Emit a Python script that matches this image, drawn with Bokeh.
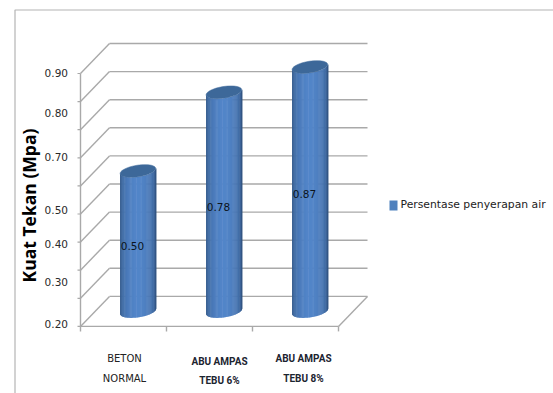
import math

from bokeh.core.properties import value
from bokeh.embed import file_html
from bokeh.models import Range1d
from bokeh.plotting import figure
from bokeh.resources import INLINE

# Chart content
categories = [["BETON", "NORMAL"], ["ABU AMPAS", "TEBU 6%"], ["ABU AMPAS", "TEBU 8%"]]
strength = [0.50, 0.78, 0.87]
value_labels = ["0.50", "0.78", "0.87"]
tick_labels = ["0.90", "0.80", "0.70", "0.50", "0.40", "0.30", "0.20"]
series_name = "Persentase penyerapan air"
axis_title = "Kuat Tekan (Mpa)"

# Page layout, in pixels
W, H = 553, 393
BAR_X0, BAR_DX = 137.4, 86.0   # centre of the first cylinder, spacing between cylinders
BASE_Y, PX_PER_UNIT = 311.0, 281.0   # pixel height of value 0 and scale of the value axis
GRID = "#a9a9a9"


def ux(px):
    return (px - BAR_X0) / BAR_DX


def uy(py):
    return (BASE_Y - py) / PX_PER_UNIT


p = figure(
    width=W, height=H, output_backend="svg", toolbar_location=None,
    x_range=Range1d(ux(0), ux(W)), y_range=Range1d(uy(H), uy(0)),
    min_border=0, outline_line_color=None,
)
p.xaxis.visible = False
p.yaxis.visible = False
p.grid.visible = False


def seg(x0, y0, x1, y1, color=GRID, width=1.4):
    p.line([ux(x0), ux(x1)], [uy(y0), uy(y1)], line_color=color, line_width=width)


# Outer frame of the chart area
p.line([ux(14.5), ux(14.5), ux(W)], [uy(H), uy(9.5), uy(9.5)], line_color="#b4b4b4", line_width=1.2)

# Perspective walls: gridlines run along the back wall and step down the side wall
FRONT_X, BACK_X, RIGHT_X = 80.0, 109.0, 367.0
TOP_FRONT, STEP = 73.0, 28.1
for k in range(10):
    yf = TOP_FRONT + k * STEP
    seg(FRONT_X, yf, BACK_X, yf - 30)
    seg(BACK_X, yf - 30, RIGHT_X, yf - 30)
    seg(FRONT_X - 3, yf, FRONT_X, yf, width=1.2)
floor_y = TOP_FRONT + 9 * STEP
seg(FRONT_X, TOP_FRONT, FRONT_X, floor_y + 5)
seg(FRONT_X, floor_y, 338, floor_y)
seg(338, floor_y, RIGHT_X, floor_y - 30)
for i in range(1, 4):
    seg(FRONT_X + i * 86, floor_y, FRONT_X + i * 86, floor_y + 5)

# Cylinders: vertical strips shaded dark-light-dark, closed by a tilted ellipse on top
A, B, TILT = 18.0, 5.8, math.radians(-9)
EDGE, MID = (46, 80, 124), (82, 133, 201)


def ellipse_offset(t):
    ex, ey = A * math.cos(t), B * math.sin(t)
    return ex * math.cos(TILT) - ey * math.sin(TILT), ex * math.sin(TILT) + ey * math.cos(TILT)


def shade(f):
    # f runs 0..1 across the cylinder, brightest a little left of the middle
    d = abs(f - 0.48) / 0.52
    w = min(1.0, d ** 1.7)
    return "#%02x%02x%02x" % tuple(round(m + (e - m) * w) for e, m in zip(EDGE, MID))


N = 44
arc = [ellipse_offset(math.pi - math.pi * j / N) for j in range(N + 1)]
for i, v in enumerate(strength):
    xs_list, ys_list, colors = [], [], []
    for j in range(N):
        (dx0, dy0), (dx1, dy1) = arc[j], arc[j + 1]
        x0, x1 = i + dx0 / BAR_DX, i + dx1 / BAR_DX + 0.006
        xs_list.append([x0, x1, x1, x0])
        ys_list.append([v - dy0 / PX_PER_UNIT, v - dy1 / PX_PER_UNIT, -dy1 / PX_PER_UNIT, -dy0 / PX_PER_UNIT])
        colors.append(shade(j / (N - 1)))
    p.patches(xs_list, ys_list, fill_color=colors, line_color=None)
    ring = [ellipse_offset(2 * math.pi * j / 48) for j in range(48)]
    p.patch([i + r[0] / BAR_DX for r in ring], [v - r[1] / PX_PER_UNIT for r in ring],
            fill_color="#3d6899", line_color="#456f9f", line_width=0.5)

# Value labels on the cylinders
p.text(list(range(3)), [v / 2 for v in strength], text=value_labels,
       x_offset=-5.5, y_offset=5, text_align="center", text_baseline="middle",
       text_color="#0c1420", text_font=value("DejaVu Sans"), text_font_size="10.5px")

# Value axis labels
label_px = [72, 112, 156, 209, 243, 281, 323]
p.text([ux(67.5)] * len(tick_labels), [uy(y) for y in label_px], text=tick_labels,
       text_align="right", text_baseline="middle", text_color="#2a2a2a",
       text_font=value("DejaVu Sans"), text_font_size="10.5px")

# Axis title
p.text([ux(28)], [uy(205)], text=[axis_title], angle=math.pi / 2,
       text_align="center", text_baseline="middle", text_color="#000000",
       text_font=value("Open Sans"), text_font_style="bold", text_font_size="17.5px")

# Category labels
p.text([ux(124)] * 2, [uy(358), uy(378)], text=categories[0], text_align="center", text_baseline="middle",
       text_color="#222222", text_font=value("DejaVu Sans"), text_font_size="10px")
p.text([ux(219)] * 2, [uy(361), uy(380)], text=categories[1], text_align="center", text_baseline="middle",
       text_color="#1c2430", text_font=value("Roboto"), text_font_style="bold", text_font_size="10px")
p.text([ux(303)] * 2, [uy(358), uy(378)], text=categories[2], text_align="center", text_baseline="middle",
       text_color="#1c2430", text_font=value("Roboto"), text_font_style="bold", text_font_size="10px")

# Legend
p.quad(left=[ux(389)], right=[ux(397)], top=[uy(200)], bottom=[uy(210)], fill_color="#4f81bd", line_color=None)
p.text([ux(400)], [uy(204)], text=[series_name], text_align="left", text_baseline="middle",
       text_color="#222222", text_font=value("DejaVu Sans"), text_font_size="10.8px")

open("out.html", "w").write(file_html(p, INLINE))
